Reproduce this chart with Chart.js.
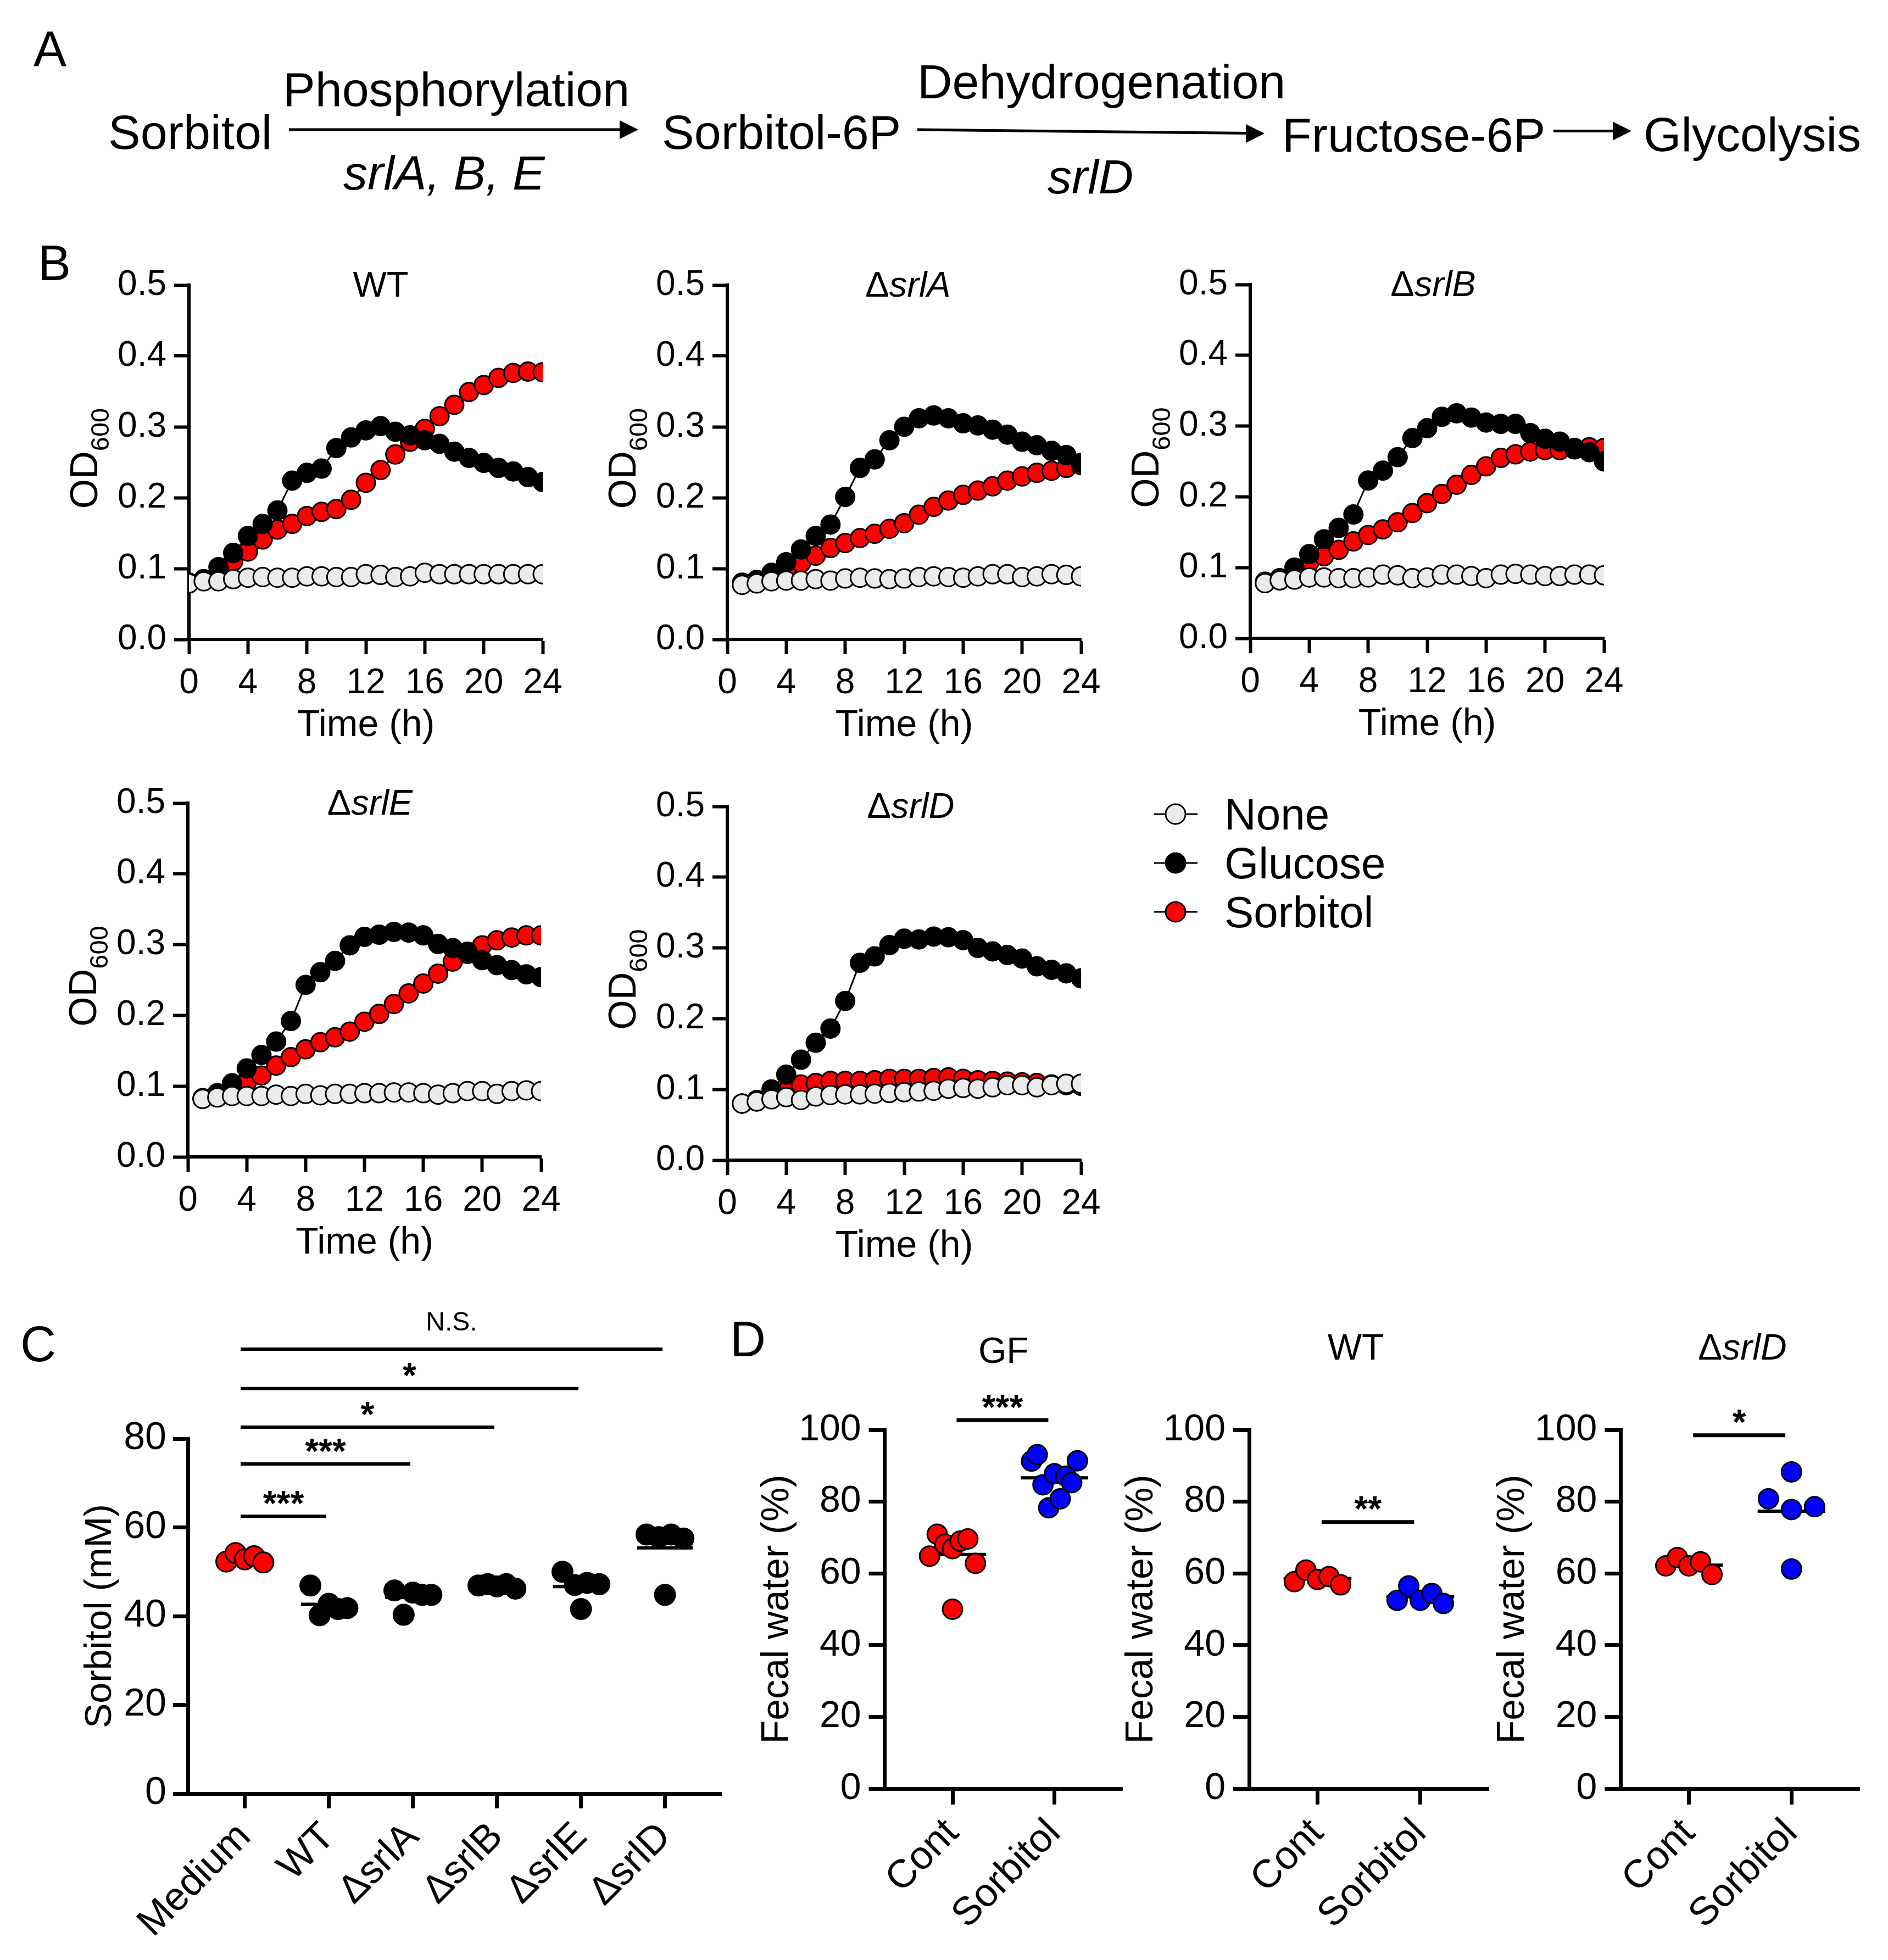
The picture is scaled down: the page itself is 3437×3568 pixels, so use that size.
<!DOCTYPE html>
<html>
<head>
<meta charset="utf-8">
<title>Sorbitol utilisation figure</title>
<script src="https://cdn.jsdelivr.net/npm/chart.js"></script>
<style>
  html, body { margin:0; padding:0; background:#ffffff; }
  body { position:relative; width:3437px; height:3568px; overflow:hidden; }
  canvas { position:absolute; }
  #overlay { position:absolute; left:0; top:0; }
  #overlay text { font-family:'Liberation Sans', Arial, sans-serif; fill:#000; }
</style>
</head>
<body>
<svg id="overlay" width="3437" height="3568" viewBox="0 0 3437 3568" xmlns="http://www.w3.org/2000/svg">
  <text x="61" y="120" font-size="90">A</text>
  <text x="69" y="510" font-size="90">B</text>
  <text x="37" y="2478" font-size="90">C</text>
  <text x="1329" y="2469" font-size="90">D</text>

  <text x="197" y="271" font-size="88">Sorbitol</text>
  <text x="515" y="193" font-size="88">Phosphorylation</text>
  <text x="625" y="345" font-size="88" font-style="italic">srlA, B, E</text>
  <line x1="526" y1="236" x2="1132" y2="236" stroke="#000" stroke-width="5"/>
  <polygon points="1128,219 1162,236 1128,253" fill="#000"/>

  <text x="1205" y="271" font-size="88">Sorbitol-6P</text>
  <text x="1670" y="179" font-size="88">Dehydrogenation</text>
  <text x="1907" y="352" font-size="88" font-style="italic">srlD</text>
  <line x1="1670" y1="236" x2="2272" y2="242.6" stroke="#000" stroke-width="5"/>
  <polygon points="2268,226 2302,243 2268,260" fill="#000"/>

  <text x="2334" y="276" font-size="88">Fructose-6P</text>
  <line x1="2828" y1="238.5" x2="2940" y2="238.5" stroke="#000" stroke-width="5"/>
  <polygon points="2936,221.5 2970,238.5 2936,255.5" fill="#000"/>
  <text x="2992" y="275" font-size="88">Glycolysis</text>
  <g id="legend"></g>
</svg>

<script>
// ================= DATA =================
// Panel B: growth curves (OD600)
const timeWT  = [0,1,2,3,4,5,6,7,8,9,10,11,12,13,14,15,16,17,18,19,20,21,22,23,24];
const timeMut = [1,2,3,4,5,6,7,8,9,10,11,12,13,14,15,16,17,18,19,20,21,22,23,24];

const wtNone     = [0.079,0.082,0.082,0.085,0.087,0.088,0.087,0.087,0.089,0.089,0.088,0.088,0.092,0.091,0.088,0.089,0.094,0.092,0.092,0.092,0.092,0.092,0.092,0.092,0.092];
const wtGlucose  = [0.080,0.085,0.102,0.122,0.146,0.163,0.182,0.224,0.235,0.241,0.270,0.285,0.295,0.301,0.293,0.288,0.281,0.276,0.265,0.256,0.249,0.242,0.237,0.229,0.222];
const wtSorbitol = [0.080,0.084,0.090,0.110,0.124,0.141,0.155,0.163,0.174,0.180,0.184,0.197,0.221,0.239,0.261,0.279,0.297,0.315,0.331,0.349,0.359,0.369,0.376,0.378,0.377];

const srlANone     = [0.077,0.079,0.082,0.083,0.083,0.085,0.083,0.086,0.087,0.086,0.085,0.086,0.088,0.089,0.088,0.087,0.089,0.092,0.092,0.088,0.089,0.092,0.091,0.089];
const srlAGlucose  = [0.080,0.084,0.094,0.109,0.127,0.146,0.162,0.201,0.242,0.254,0.281,0.300,0.312,0.316,0.312,0.305,0.302,0.296,0.289,0.279,0.274,0.266,0.260,0.249];
const srlASorbitol = [0.078,0.081,0.088,0.097,0.108,0.118,0.129,0.136,0.143,0.149,0.156,0.164,0.176,0.187,0.196,0.204,0.210,0.216,0.224,0.230,0.235,0.238,0.242,0.246];

const srlBNone     = [0.078,0.082,0.083,0.086,0.086,0.085,0.085,0.086,0.090,0.089,0.085,0.086,0.090,0.090,0.088,0.085,0.090,0.091,0.090,0.088,0.088,0.090,0.090,0.089];
const srlBGlucose  = [0.080,0.085,0.100,0.119,0.140,0.156,0.175,0.223,0.237,0.256,0.283,0.297,0.313,0.318,0.312,0.305,0.303,0.303,0.290,0.282,0.278,0.269,0.263,0.250];
const srlBSorbitol = [0.078,0.082,0.090,0.107,0.116,0.125,0.137,0.146,0.154,0.164,0.177,0.191,0.204,0.217,0.231,0.243,0.255,0.260,0.264,0.266,0.266,0.267,0.270,0.269];

const srlENone     = [0.082,0.084,0.086,0.086,0.086,0.088,0.086,0.089,0.087,0.089,0.089,0.090,0.090,0.091,0.091,0.090,0.088,0.090,0.093,0.093,0.089,0.093,0.094,0.093];
const srlEGlucose  = [0.083,0.090,0.104,0.125,0.144,0.163,0.192,0.243,0.261,0.277,0.299,0.311,0.314,0.318,0.317,0.313,0.301,0.295,0.290,0.278,0.271,0.264,0.258,0.254];
const srlESorbitol = [0.082,0.085,0.092,0.105,0.115,0.129,0.141,0.152,0.162,0.169,0.177,0.191,0.202,0.216,0.231,0.245,0.259,0.276,0.287,0.299,0.306,0.310,0.313,0.313];

const srlDNone     = [0.080,0.083,0.086,0.089,0.085,0.090,0.092,0.093,0.093,0.094,0.095,0.096,0.097,0.098,0.101,0.102,0.101,0.103,0.106,0.106,0.103,0.106,0.108,0.108];
const srlDGlucose  = [0.080,0.085,0.100,0.121,0.142,0.166,0.186,0.225,0.279,0.288,0.304,0.313,0.312,0.316,0.315,0.311,0.300,0.295,0.290,0.285,0.274,0.269,0.264,0.257];
const srlDSorbitol = [0.080,0.083,0.088,0.097,0.107,0.109,0.112,0.112,0.112,0.113,0.115,0.115,0.115,0.116,0.117,0.115,0.113,0.112,0.111,0.110,0.109,0.107,0.106,0.105];

const seriesNames = ['None', 'Glucose', 'Sorbitol'];

// Panel C: sorbitol remaining in medium (mM)
const concCategories = ['Medium', 'WT', 'ΔsrlA', 'ΔsrlB', 'ΔsrlE', 'ΔsrlD'];
const concMedium = [52.3, 54.2, 52.8, 53.5, 52.1];
const concWT     = [46.9, 40.2, 42.8, 41.6, 41.8];
const concSrlA   = [45.8, 40.3, 45.3, 44.8, 44.8];
const concSrlB   = [46.9, 47.2, 46.7, 47.2, 46.2];
const concSrlE   = [50.0, 47.0, 41.6, 47.5, 47.2];
const concSrlD   = [58.4, 57.8, 44.8, 58.4, 57.5];
const concSigLabels = ['***', '***', '*', '*', 'N.S.'];
const concSigLevels = [62.5, 74.3, 82.6, 91.3, 100.2];

// Panel D: fecal water (%)
const fecalCategories = ['Cont', 'Sorbitol'];
const gfCont       = [64.8, 70.9, 68.1, 66.9, 50.0, 69.0, 69.6, 62.8];
const gfSorbitol   = [91.3, 93.1, 84.7, 78.3, 87.8, 80.8, 87.1, 85.3, 91.4];
const wtCont       = [57.7, 60.9, 58.3, 59.1, 56.8];
const wtSorbitolD  = [52.5, 56.5, 52.5, 54.4, 51.6];
const srlDCont     = [62.1, 64.4, 62.1, 63.2, 59.7];
const srlDSorbitolD= [80.8, 88.3, 77.8, 61.2, 78.6];
const fecalSig     = ['***', '**', '*'];
const fecalSigLevels = [102.7, 74.3, 98.5];

// ================= STYLE / HELPERS =================
const FAMILY = "'Liberation Sans', Arial, sans-serif";
Chart.defaults.font.family = FAMILY;
Chart.defaults.color = '#000000';
const RED = '#ff0000', BLUE = '#0000ff', GREY = '#ebebeb', BLACK = '#000000';
const seriesFills = [GREY, BLACK, RED];

function addCanvas(x, y, w, h) {
  const c = document.createElement('canvas');
  c.width = w; c.height = h;
  c.style.left = x + 'px'; c.style.top = y + 'px';
  c.style.width = w + 'px'; c.style.height = h + 'px';
  document.body.appendChild(c);
  return c;
}
function axisStyle(lineW, tickLen) {
  return {
    grid: { display: true, drawOnChartArea: false, drawTicks: true, tickLength: tickLen,
            tickWidth: lineW, tickColor: BLACK, color: BLACK },
    border: { display: true, width: lineW, color: BLACK }
  };
}
function mean(a) { return a.reduce((s, v) => s + v, 0) / a.length; }

// Spread overlapping points of one group side by side (simple scatter-dot layout)
function swarm(values, center, thresh, half) {
  const idx = values.map((v, i) => i).sort((a, b) => values[a] - values[b]);
  const clusters = []; let cur = [idx[0]];
  for (let k = 1; k < idx.length; k++) {
    if (values[idx[k]] - values[idx[k - 1]] < thresh) cur.push(idx[k]);
    else { clusters.push(cur); cur = [idx[k]]; }
  }
  clusters.push(cur);
  const xs = new Array(values.length);
  clusters.forEach(c => {
    c.sort((a, b) => a - b);
    const n = c.length;
    c.forEach((i, j) => { xs[i] = n === 1 ? center : center - half + 2 * half * j / (n - 1); });
  });
  return values.map((v, i) => ({ x: xs[i], y: v }));
}

function titlePlugin(parts, dx, dy, size) {
  return {
    id: 'panelTitle',
    afterDraw(chart) {
      const { ctx, chartArea: a } = chart;
      ctx.save();
      ctx.fillStyle = BLACK; ctx.textBaseline = 'alphabetic'; ctx.textAlign = 'left';
      const fonts = parts.map(p => (p.italic ? 'italic ' : '') + size + 'px ' + FAMILY);
      const widths = parts.map((p, i) => { ctx.font = fonts[i]; return ctx.measureText(p.text).width; });
      const total = widths.reduce((s, w) => s + w, 0);
      let x = (a.left + a.right) / 2 + dx - total / 2;
      parts.forEach((p, i) => { ctx.font = fonts[i]; ctx.fillText(p.text, x, a.top + dy); x += widths[i]; });
      ctx.restore();
    }
  };
}
function odTitlePlugin() {
  return {
    id: 'odTitle',
    afterDraw(chart) {
      const { ctx, chartArea: a } = chart;
      ctx.save();
      ctx.fillStyle = BLACK; ctx.textBaseline = 'alphabetic'; ctx.textAlign = 'left';
      const f1 = '70px ' + FAMILY, f2 = '47px ' + FAMILY;
      ctx.font = f1; const w1 = ctx.measureText('OD').width;
      ctx.font = f2; const w2 = ctx.measureText('600').width;
      ctx.translate(a.left - 167, (a.top + a.bottom) / 2);
      ctx.rotate(-Math.PI / 2);
      const x = 7 - (w1 + w2) / 2;
      ctx.font = f1; ctx.fillText('OD', x, 0);
      ctx.font = f2; ctx.fillText('600', x + w1, 21);
      ctx.restore();
    }
  };
}
function bracketPlugin(items) {
  return {
    id: 'sigBrackets',
    afterDraw(chart) {
      const { ctx } = chart; const xs = chart.scales.x, ys = chart.scales.y;
      ctx.save();
      ctx.strokeStyle = BLACK; ctx.fillStyle = BLACK; ctx.lineCap = 'butt';
      items.forEach(b => {
        const x1 = xs.getPixelForValue(b.from), x2 = xs.getPixelForValue(b.to), y = ys.getPixelForValue(b.level);
        ctx.lineWidth = b.width;
        ctx.beginPath(); ctx.moveTo(x1, y); ctx.lineTo(x2, y); ctx.stroke();
        ctx.font = b.font; ctx.textAlign = 'center'; ctx.textBaseline = 'alphabetic';
        const m = ctx.measureText(b.label);
        const base = (y - b.gap) + (m.actualBoundingBoxAscent - m.actualBoundingBoxDescent) / 2;
        ctx.fillText(b.label, (x1 + x2) / 2, base);
      });
      ctx.restore();
    }
  };
}

// ================= PANEL B =================
function growthChart(o) {
  const cx = Math.round(o.L - 250), cy = Math.round(o.T - 60);
  const cw = Math.round(o.R + 70) - cx, ch = Math.round(o.B + 200) - cy;
  const cv = addCanvas(cx, cy, cw, ch);
  const xy = arr => arr.map((v, i) => ({ x: o.times[i], y: v }));
  const ds = (k, data) => ({
    label: seriesNames[k], data: xy(data), borderColor: BLACK, borderWidth: 3,
    backgroundColor: seriesFills[k], pointBackgroundColor: seriesFills[k], pointBorderColor: BLACK,
    pointBorderWidth: 3, pointRadius: 17, pointHoverRadius: 17, tension: 0, fill: false
  });
  return new Chart(cv, {
    type: 'line',
    data: { datasets: [ds(0, o.none), ds(1, o.glucose), ds(2, o.sorbitol)] },
    options: {
      responsive: false, animation: false, devicePixelRatio: 1, events: [],
      layout: { padding: { left: 0, top: o.T - cy, right: cx + cw - o.R, bottom: 0 } },
      plugins: { legend: { display: false }, tooltip: { enabled: false } },
      scales: {
        x: {
          type: 'linear', position: 'bottom', min: 0, max: 24,
          ticks: { stepSize: 4, font: { size: 64 }, color: BLACK, padding: 15, maxRotation: 0, minRotation: 0, autoSkip: false },
          ...axisStyle(6, 27),
          title: { display: true, text: 'Time (h)', font: { size: 68, lineHeight: 1 }, color: BLACK, padding: { top: 0, bottom: 8.5 } },
          afterFit: s => { s.height = cy + ch - o.B; }
        },
        y: {
          type: 'linear', position: 'left', min: 0, max: 0.5,
          ticks: { stepSize: 0.1, font: { size: 64 }, color: BLACK, padding: 14, callback: v => Number(v).toFixed(1) },
          ...axisStyle(6, 27),
          afterFit: s => { s.width = o.L - cx; }
        }
      }
    },
    plugins: [titlePlugin(o.title, o.titleDx, 21, 65), odTitlePlugin()]
  });
}

growthChart({ L: 344, T: 519, R: 988, B: 1164, times: timeWT, none: wtNone, glucose: wtGlucose, sorbitol: wtSorbitol,
  title: [{ text: 'WT' }], titleDx: 27 });
growthChart({ L: 1324, T: 519, R: 1968, B: 1164, times: timeMut, none: srlANone, glucose: srlAGlucose, sorbitol: srlASorbitol,
  title: [{ text: 'Δ' }, { text: 'srlA', italic: true }], titleDx: 7 });
growthChart({ L: 2276, T: 518, R: 2920, B: 1162, times: timeMut, none: srlBNone, glucose: srlBGlucose, sorbitol: srlBSorbitol,
  title: [{ text: 'Δ' }, { text: 'srlB', italic: true }], titleDx: 11 });
growthChart({ L: 342, T: 1462, R: 985, B: 2106, times: timeMut, none: srlENone, glucose: srlEGlucose, sorbitol: srlESorbitol,
  title: [{ text: 'Δ' }, { text: 'srlE', italic: true }], titleDx: 10 });
growthChart({ L: 1324, T: 1468, R: 1968, B: 2112, times: timeMut, none: srlDNone, glucose: srlDGlucose, sorbitol: srlDSorbitol,
  title: [{ text: 'Δ' }, { text: 'srlD', italic: true }], titleDx: 12 });

// legend for panel B
(function () {
  const g = document.getElementById('legend');
  const ns = 'http://www.w3.org/2000/svg';
  seriesNames.forEach((name, k) => {
    const y = 1482 + k * 89;
    const ln = document.createElementNS(ns, 'line');
    ln.setAttribute('x1', 2101); ln.setAttribute('x2', 2180); ln.setAttribute('y1', y); ln.setAttribute('y2', y);
    ln.setAttribute('stroke', BLACK); ln.setAttribute('stroke-width', 3);
    g.appendChild(ln);
    const c = document.createElementNS(ns, 'circle');
    c.setAttribute('cx', 2140); c.setAttribute('cy', y); c.setAttribute('r', 18);
    c.setAttribute('fill', seriesFills[k]); c.setAttribute('stroke', BLACK); c.setAttribute('stroke-width', 3);
    g.appendChild(c);
    const t = document.createElementNS(ns, 'text');
    t.setAttribute('x', 2229); t.setAttribute('y', y + 28); t.setAttribute('font-size', 80);
    t.textContent = name;
    g.appendChild(t);
  });
})();

// ================= PANELS C & D =================
function dotChart(o) {
  const cv = addCanvas(o.cx, o.cy, o.cw, o.ch);
  const datasets = [];
  o.groups.forEach((g, i) => {
    datasets.push({
      type: 'scatter', label: o.cats[i], data: swarm(g.values, i, o.thresh, o.half),
      pointRadius: o.r, pointHoverRadius: o.r, pointBackgroundColor: g.color, pointBorderColor: BLACK,
      pointBorderWidth: 3, backgroundColor: g.color, borderColor: BLACK, showLine: false, order: 0
    });
  });
  o.groups.forEach((g, i) => {
    const m = mean(g.values);
    datasets.push({
      type: 'line', label: o.cats[i] + ' mean', data: [{ x: i - 0.33, y: m }, { x: i + 0.33, y: m }],
      borderColor: BLACK, borderWidth: 6, pointRadius: 0, pointHoverRadius: 0, fill: false, order: 1
    });
  });
  const plugins = [bracketPlugin(o.brackets)];
  if (o.title) plugins.push(titlePlugin(o.title, o.titleDx, o.titleDy, 66));
  return new Chart(cv, {
    type: 'scatter',
    data: { datasets },
    options: {
      responsive: false, animation: false, devicePixelRatio: 1, events: [],
      layout: { padding: { left: 0, top: o.T - o.cy, right: o.cx + o.cw - o.R, bottom: 0 } },
      plugins: { legend: { display: false }, tooltip: { enabled: false } },
      scales: {
        x: {
          type: 'linear', position: 'bottom', min: o.xmin, max: o.xmax,
          afterBuildTicks: s => { s.ticks = o.cats.map((c, i) => ({ value: i })); },
          ticks: { autoSkip: false, minRotation: 45, maxRotation: 45, font: { size: o.labelSize }, color: BLACK,
                   padding: o.labelPad, labelOffset: o.labelOffset || 0, callback: v => o.cats[Math.round(v)] },
          ...axisStyle(7, o.tickLen),
          afterFit: s => { s.height = o.cy + o.ch - o.B; }
        },
        y: {
          type: 'linear', position: 'left', min: 0, max: o.ymax,
          ticks: { stepSize: 20, font: { size: o.tickSize }, color: BLACK, padding: o.tickPad },
          ...axisStyle(7, o.tickLen),
          title: { display: true, text: o.yTitle, font: { size: o.yTitleSize, lineHeight: 1 }, color: BLACK,
                   padding: { top: o.yTitlePad, bottom: 0 } },
          afterFit: s => { s.width = o.L - o.cx; }
        }
      }
    },
    plugins
  });
}

// Panel C
const concGroups = [concMedium, concWT, concSrlA, concSrlB, concSrlE, concSrlD]
  .map((v, i) => ({ values: v, color: i === 0 ? RED : BLACK }));
dotChart({
  cx: 100, cy: 2370, cw: 1253, ch: 1198, L: 342, T: 2619, R: 1313, B: 3265,
  cats: concCategories, groups: concGroups, xmin: -0.678, xmax: 5.67, ymax: 80,
  thresh: 5, half: 0.22, r: 18.5, tickLen: 27, tickSize: 70, tickPad: 12,
  labelSize: 72, labelPad: 10, yTitle: 'Sorbitol (mM)', yTitleSize: 68, yTitlePad: 49,
  brackets: concSigLabels.map((lab, k) => ({
    from: -0.05, to: (k + 1) - 0.03, level: concSigLevels[k], label: lab, width: 6,
    font: lab === 'N.S.' ? '48px ' + FAMILY : 'bold 64px ' + FAMILY, gap: lab === 'N.S.' ? 51 : 34
  }))
});

// Panel D
const fecalPanels = [
  { cont: gfCont,   sorb: gfSorbitol,    title: [{ text: 'GF' }], dx: 0,   dy: -122, L: 1610.6, R: 2043,   cx: 1330 },
  { cont: wtCont,   sorb: wtSorbitolD,   title: [{ text: 'WT' }], dx: -24, dy: -128, L: 2274,   R: 2710,   cx: 2000 },
  { cont: srlDCont, sorb: srlDSorbitolD, title: [{ text: 'Δ' }, { text: 'srlD', italic: true }], dx: 4, dy: -128, L: 2950.4, R: 3385.5, cx: 2680 }
];
fecalPanels.forEach((p, k) => {
  dotChart({
    cx: p.cx, cy: 2370, cw: Math.round(p.R + 40) - p.cx, ch: 1198, L: p.L, T: 2603, R: p.R, B: 3256,
    cats: fecalCategories, groups: [{ values: p.cont, color: RED }, { values: p.sorb, color: BLUE }],
    xmin: -0.665, xmax: 1.665, ymax: 100, thresh: 6.1, half: 0.225, r: 18, tickLen: 29, tickSize: 68, tickPad: 14,
    labelSize: 72, labelPad: 10, yTitle: 'Fecal water (%)', yTitleSize: 70, yTitlePad: Math.round(p.L - 195 - p.cx - 35),
    title: p.title, titleDx: p.dx, titleDy: p.dy,
    brackets: [{ from: 0.04, to: 0.94, level: fecalSigLevels[k], label: fecalSig[k], width: 7,
                 font: 'bold 64px ' + FAMILY, gap: 34 }]
  });
});
</script>
</body>
</html>
